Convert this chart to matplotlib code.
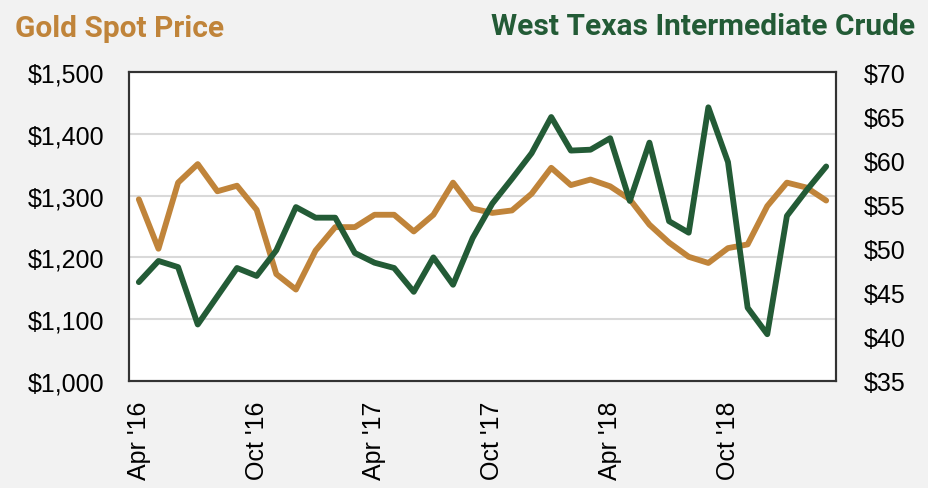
import matplotlib
matplotlib.use("Agg")
import matplotlib.pyplot as plt
from matplotlib.ticker import FuncFormatter

months = ["Apr '16", "May '16", "Jun '16", "Jul '16", "Aug '16", "Sep '16",
          "Oct '16", "Nov '16", "Dec '16", "Jan '17", "Feb '17", "Mar '17",
          "Apr '17", "May '17", "Jun '17", "Jul '17", "Aug '17", "Sep '17",
          "Oct '17", "Nov '17", "Dec '17", "Jan '18", "Feb '18", "Mar '18",
          "Apr '18", "May '18", "Jun '18", "Jul '18", "Aug '18", "Sep '18",
          "Oct '18", "Nov '18", "Dec '18", "Jan '19", "Feb '19", "Mar '19"]

gold = [1294, 1214, 1321, 1351, 1307, 1316, 1277, 1173, 1148, 1211, 1249, 1249,
        1269, 1269, 1242, 1269, 1321, 1279, 1272, 1276, 1303, 1345, 1317, 1326,
        1315, 1294, 1253, 1224, 1201, 1191, 1215, 1221, 1283, 1321, 1313, 1292]

wti = [46.2, 48.6, 47.9, 41.4, 44.6, 47.8, 46.9, 49.8, 54.7, 53.5, 53.5, 49.5,
       48.4, 47.8, 45.1, 49.0, 45.9, 51.2, 55.1, 57.9, 60.8, 64.9, 61.1, 61.2,
       62.5, 55.4, 62.0, 53.1, 51.8, 66.0, 59.8, 43.3, 40.3, 53.7, 56.6, 59.3]

tick_labels = ["Apr '16", "Oct '16", "Apr '17", "Oct '17", "Apr '18", "Oct '18"]

gold_color = "#C0843A"
wti_color = "#235B36"
bg = "#F2F2F2"

fig = plt.figure(figsize=(9.29, 4.89), dpi=100, facecolor=bg)
ax = fig.add_axes([129/929, 1 - 382/489, (836 - 129)/929, (382 - 73)/489])
ax.set_facecolor("white")
ax2 = ax.twinx()

x = list(range(len(months)))
ax.plot(x, gold, color=gold_color, lw=4.2, solid_joinstyle="round",
        solid_capstyle="round", zorder=3)
ax2.plot(x, wti, color=wti_color, lw=4.2, solid_joinstyle="round",
         solid_capstyle="round", zorder=3)

ax.set_xlim(-0.5, len(months) - 0.5)
ax.set_ylim(1000, 1500)
ax2.set_ylim(35, 70)
ax.set_yticks(range(1000, 1501, 100))
ax2.set_yticks(range(35, 71, 5))
ax.yaxis.set_major_formatter(FuncFormatter(lambda v, p: f"${v:,.0f}"))
ax2.yaxis.set_major_formatter(FuncFormatter(lambda v, p: f"${v:.0f}"))

tick_pos = [months.index(t) for t in tick_labels]
ax.set_xticks(tick_pos)
ax.set_xticklabels(tick_labels, rotation=90, va="top", ha="center")

ax.grid(axis="y", color="#D9D9D9", lw=1.5, zorder=0)
ax.set_axisbelow(True)

font = "Liberation Sans"
for a in (ax, ax2):
    a.tick_params(length=0, labelsize=18)
    for lab in a.get_xticklabels() + a.get_yticklabels():
        lab.set_fontfamily(font)
    for s in a.spines.values():
        s.set_color("#333333")
        s.set_linewidth(1.5)
ax.tick_params(axis="y", pad=18)
ax.tick_params(axis="x", pad=14)
ax2.tick_params(axis="y", pad=20)

fig.text(15/929, 1 - 37/489, "Gold Spot Price", color=gold_color, fontsize=21.5,
         fontweight="bold", family="Roboto", ha="left", va="baseline")
fig.text(915/929, 1 - 35/489, "West Texas Intermediate Crude", color=wti_color,
         fontsize=21.5, fontweight="bold", family="Roboto", ha="right", va="baseline")

fig.savefig("out.png", dpi=100, facecolor=bg)
